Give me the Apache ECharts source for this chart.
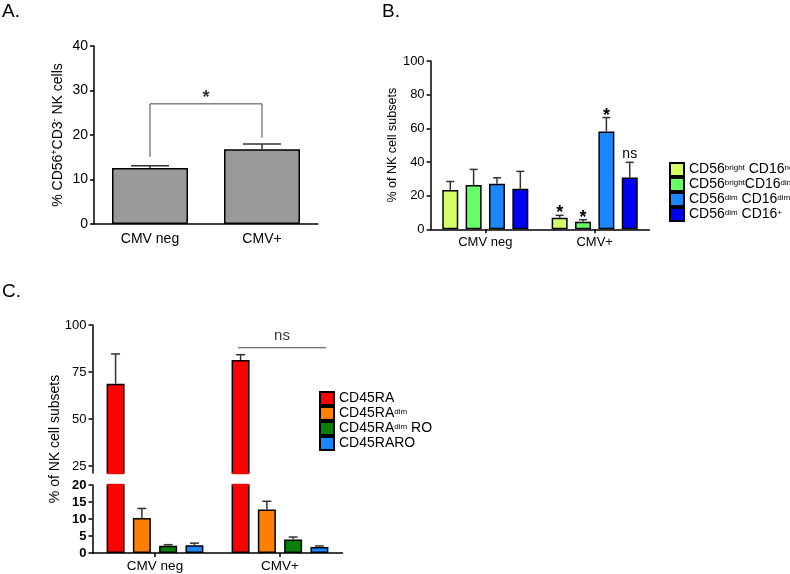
<!DOCTYPE html>
<html><head><meta charset="utf-8">
<script src="https://cdn.jsdelivr.net/npm/echarts@6/dist/echarts.min.js"></script>
<style>html,body{margin:0;padding:0;background:#fff}#c{width:790px;height:574px}</style>
</head><body><div id="c"></div>
<script>
// ---------- DATA ----------
const categories = ['CMV neg', 'CMV+'];
// Panel A
const aValues = [12.6, 16.8];
const aSem = [0.5, 1.2];
const aBracket = [[0.5, 15.1], [0.5, 27.0], [1.5, 27.0], [1.5, 19.4]];
const aStar = [[1.0, 29.4]];
// Panel B
const bSeries = ['CD56bright CD16neg', 'CD56bright CD16dim', 'CD56dim CD16dim', 'CD56dim CD16+'];
const bLegendText = ['CD56{s|bright} CD16{s|neg}', 'CD56{s|bright}CD16{s|dim}', 'CD56{s|dim} CD16{s|dim}', 'CD56{s|dim} CD16{s|+}'];
const bValues = [[23.3, 6.9], [26.3, 4.5], [27.0, 58.1], [24.1, 30.8]];
const bSem = [[5.1, 1.4], [9.3, 1.2], [3.6, 8.3], [10.3, 9.0]];
const bSig = [['', '*'], ['', '*'], ['', '*'], ['', 'ns']];
// Panel C
const cSeries = ['CD45RA', 'CD45RAdim', 'CD45RAdim RO', 'CD45RARO'];
const cLegendText = ['CD45RA', 'CD45RA{s|dim}', 'CD45RA{s|dim} RO', 'CD45RARO'];
const cValues = [[68.8, 81.4], [10.3, 12.8], [2.1, 4.0], [2.3, 1.8]];
const cSem = [[15.8, 2.8], [2.8, 2.4], [0.35, 0.7], [0.6, 0.25]];
const cUpperTicks = [25, 50, 75, 100];
const cNsLine = [[1.164, 87.9], [1.868, 87.9]];
const cNsText = [[1.516, 87.9]];

// ---------- STYLE ----------
const FONT = 'Liberation Sans, Arial, Helvetica, sans-serif';
const bColors = ['#d6ff66', '#66ff66', '#1a86ff', '#0000f2'];
const cColors = ['#ff0000', '#ff8000', '#0a800a', '#1a86ff'];
const lineBlk = { color: '#000', width: 1.5 };
const cUpperMin = 21.3;

// error bars (+ significance text, + cover of the border at an axis break)
function errSeries(xi, yi, idx, n, barW, gap, vals, sems, sig, starSize, breakMode, color) {
  const pitch = barW * (1 + gap);
  const off = (idx - (n - 1) / 2) * pitch;
  return {
    type: 'custom', xAxisIndex: xi, yAxisIndex: yi, clip: false, silent: true, z: 4,
    data: vals.map((v, i) => [i, v, v + sems[i]]),
    renderItem(params, api) {
      const cs = params.coordSys;
      const top = cs.y, bottom = cs.y + cs.height;
      const x = api.value(0);
      const p0 = api.coord([x, api.value(1)]);
      const p1 = api.coord([x, api.value(2)]);
      const cx = p0[0] + off;
      const ch = [];
      const inside = !(p1[1] < top - 1 || p0[1] > bottom + 1);
      if (inside) {
        ch.push({ type: 'line', shape: { x1: cx, y1: p0[1], x2: cx, y2: p1[1] }, style: { stroke: '#333', lineWidth: 1.5 } });
        ch.push({ type: 'line', shape: { x1: cx - barW / 4, y1: p1[1], x2: cx + barW / 4, y2: p1[1] }, style: { stroke: '#333', lineWidth: 1.5 } });
      }
      if (breakMode === 'lower' && p0[1] < top) {
        ch.push({ type: 'rect', shape: { x: cx - barW / 2 + 0.8, y: top - 1.2, width: barW - 1.6, height: 2.6 }, style: { fill: color }, z2: 10 });
      }
      if (breakMode === 'upper' && p0[1] < bottom - 1) {
        ch.push({ type: 'rect', shape: { x: cx - barW / 2 + 0.8, y: bottom - 1.4, width: barW - 1.6, height: 2.6 }, style: { fill: color }, z2: 10 });
      }
      const t = sig ? sig[params.dataIndex] : '';
      if (t) {
        const star = t === '*';
        ch.push({ type: 'text', x: cx, y: p1[1] - (star ? 2 : 8),
          style: { text: t, fontSize: star ? starSize : 14, fontWeight: star ? 'bold' : 'normal', fontFamily: FONT, fill: '#000', align: 'center', verticalAlign: 'middle' } });
      }
      return { type: 'group', children: ch };
    }
  };
}

const catAxis = (gi, extra) => Object.assign({
  type: 'category', gridIndex: gi, data: categories,
  axisLine: { show: true, lineStyle: lineBlk },
  axisTick: { show: true, alignWithLabel: true, length: 4, lineStyle: lineBlk },
  axisLabel: { color: '#000', fontSize: 13, fontFamily: FONT, interval: 0, margin: 7 },
  splitLine: { show: false }
}, extra);
const hiddenVal = (gi) => ({ type: 'value', gridIndex: gi, min: 0, max: 2, show: false, splitLine: { show: false } });

const supRich = () => ({ s: { fontSize: 8, fontFamily: FONT, verticalAlign: 'top', lineHeight: 8, color: '#000' } });

const series = [];
// Panel A
series.push({ type: 'bar', xAxisIndex: 0, yAxisIndex: 0, barWidth: 76, data: aValues,
  itemStyle: { color: '#999999', borderColor: '#000', borderWidth: 1.5 }, z: 2 });
series.push(errSeries(0, 0, 0, 1, 76, 0, aValues, aSem, null, 18));
series.push({ type: 'line', xAxisIndex: 1, yAxisIndex: 0, data: aBracket, symbol: 'none',
  lineStyle: { color: '#444', width: 1 }, z: 5, silent: true });
series.push({ type: 'scatter', xAxisIndex: 1, yAxisIndex: 0, data: aStar, symbolSize: 0, silent: true,
  label: { show: true, position: 'inside', formatter: '*', fontSize: 18, fontWeight: 'bold', color: '#000', fontFamily: FONT, offset: [0, 4.5] } });
// Panel B
bSeries.forEach((nm, j) => {
  series.push({ name: nm, type: 'bar', xAxisIndex: 2, yAxisIndex: 1, barWidth: 16, barGap: '46%', data: bValues[j],
    itemStyle: { color: bColors[j], borderColor: '#000', borderWidth: 1.5 }, z: 2 });
});
bSeries.forEach((nm, j) => series.push(errSeries(2, 1, j, 4, 16, 0.46, bValues[j], bSem[j], bSig[j], 18)));
// Panel C
cSeries.forEach((nm, j) => {
  series.push({ name: nm, type: 'bar', xAxisIndex: 3, yAxisIndex: 2, barWidth: 18, barGap: '46%',
    data: cValues[j].map(v => v > cUpperMin ? v : '-'),
    itemStyle: { color: cColors[j], borderColor: '#000', borderWidth: 1.5 }, z: 2 });
  series.push({ name: nm, type: 'bar', xAxisIndex: 5, yAxisIndex: 3, barWidth: 18, barGap: '46%', data: cValues[j],
    itemStyle: { color: cColors[j], borderColor: '#000', borderWidth: 1.5 }, z: 2 });
});
cSeries.forEach((nm, j) => {
  series.push(errSeries(3, 2, j, 4, 18, 0.46, cValues[j], cSem[j], null, 18, 'upper', cColors[j]));
  series.push(errSeries(5, 3, j, 4, 18, 0.46, cValues[j], cSem[j], null, 18, 'lower', cColors[j]));
});
series.push({ type: 'line', xAxisIndex: 4, yAxisIndex: 2, data: cNsLine, symbol: 'none',
  lineStyle: { color: '#444', width: 1 }, silent: true, z: 5 });
series.push({ type: 'scatter', xAxisIndex: 4, yAxisIndex: 2, data: cNsText, symbolSize: 0, silent: true,
  label: { show: true, position: 'inside', formatter: 'ns', fontSize: 15, color: '#000', fontFamily: FONT, offset: [0, -12] } });

const legendText = { fontSize: 14, color: '#000', fontFamily: FONT, lineHeight: 12, rich: supRich() };
const option = {
  animation: false,
  textStyle: { fontFamily: FONT },
  title: [
    { text: 'A.', left: 2, top: 2, padding: 0, textStyle: { fontSize: 19, fontWeight: 'normal', color: '#000', fontFamily: FONT } },
    { text: 'B.', left: 382, top: 2, padding: 0, textStyle: { fontSize: 19, fontWeight: 'normal', color: '#000', fontFamily: FONT } },
    { text: 'C.', left: 2, top: 282, padding: 0, textStyle: { fontSize: 19, fontWeight: 'normal', color: '#000', fontFamily: FONT } }
  ],
  grid: [
    { left: 94, top: 46, width: 224, height: 178 },
    { left: 430.6, top: 61, width: 218.8, height: 168.3 },
    { left: 92.5, top: 325, width: 250, height: 148 },
    { left: 92.5, top: 485, width: 250, height: 68 }
  ],
  xAxis: [
    catAxis(0, { axisTick: { show: false }, axisLabel: { color: '#000', fontSize: 14, fontFamily: FONT, interval: 0, margin: 8 } }),
    hiddenVal(0),
    catAxis(1, {}),
    catAxis(2, { show: false }),
    hiddenVal(2),
    catAxis(3, { axisLabel: { color: '#000', fontSize: 13.5, fontFamily: FONT, interval: 0, margin: 6 } })
  ],
  yAxis: [
    { type: 'value', gridIndex: 0, min: 0, max: 40, interval: 10,
      axisLine: { show: true, lineStyle: lineBlk }, axisTick: { show: true, length: 4, lineStyle: lineBlk },
      splitLine: { show: false }, axisLabel: { color: '#000', fontSize: 14, fontFamily: FONT, margin: 6 },
      name: '% CD56{s|+}CD3{s|-} NK cells', nameLocation: 'middle', nameGap: 28,
      nameTextStyle: { color: '#000', fontSize: 14, fontFamily: FONT, lineHeight: 16, rich: { s: { fontSize: 9, fontFamily: FONT, verticalAlign: 'top', lineHeight: 9, color: '#000' } } } },
    { type: 'value', gridIndex: 1, min: 0, max: 100, interval: 20,
      axisLine: { show: true, lineStyle: lineBlk }, axisTick: { show: true, length: 4, lineStyle: lineBlk },
      splitLine: { show: false }, axisLabel: { color: '#000', fontSize: 13, fontFamily: FONT, margin: 6 },
      name: '% of NK cell subsets', nameLocation: 'middle', nameGap: 28,
      nameTextStyle: { color: '#000', fontSize: 12.5, fontFamily: FONT } },
    { type: 'value', gridIndex: 2, min: cUpperMin, max: 100,
      axisLine: { show: true, lineStyle: lineBlk },
      axisTick: { show: true, length: 4, lineStyle: lineBlk, customValues: cUpperTicks },
      splitLine: { show: false },
      axisLabel: { color: '#000', fontSize: 13, fontFamily: FONT, margin: 6, customValues: cUpperTicks } },
    { type: 'value', gridIndex: 3, min: 0, max: 20, interval: 5,
      axisLine: { show: true, lineStyle: lineBlk }, axisTick: { show: true, length: 4, lineStyle: lineBlk },
      splitLine: { show: false }, axisLabel: { color: '#000', fontSize: 13, fontWeight: 'bold', fontFamily: FONT, margin: 6 } }
  ],
  legend: [
    { data: bSeries, orient: 'vertical', left: 669, top: 162, itemWidth: 14, itemHeight: 13, itemGap: 0,
      icon: 'rect', selectedMode: false, padding: 0,
      formatter: n => bLegendText[bSeries.indexOf(n)], textStyle: legendText },
    { data: cSeries, orient: 'vertical', left: 319, top: 391, itemWidth: 14, itemHeight: 13, itemGap: 0,
      icon: 'rect', selectedMode: false, padding: 0,
      formatter: n => cLegendText[cSeries.indexOf(n)], textStyle: legendText }
  ],
  graphic: [
    { type: 'text', x: 55, y: 439, rotation: Math.PI / 2,
      style: { text: '% of NK cell subsets', fontSize: 14, fontFamily: FONT, fill: '#000', align: 'center', verticalAlign: 'middle', textAlign: 'center', textVerticalAlign: 'middle' } }
  ],
  series: series
};
const chart = echarts.init(document.getElementById('c'), null, { renderer: 'canvas' });
chart.setOption(option);
</script></body></html>
